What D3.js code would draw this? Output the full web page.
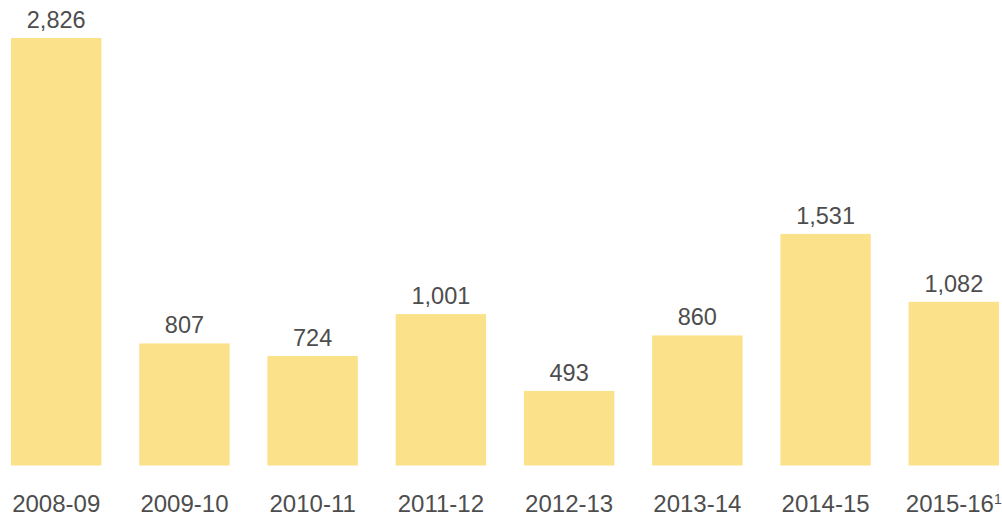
<!DOCTYPE html>
<html>
<head>
<meta charset="utf-8">
<script src="https://cdn.jsdelivr.net/npm/d3@7"></script>
<style>
    body { margin: 0; background: #fff; }
    text { font-family: 'Liberation Sans', Arial, sans-serif; fill: #4d4d4d; }
</style>
</head>
<body>
<div id="container"></div>
<script>
// Data
var years = ['2008-09', '2009-10', '2010-11', '2011-12', '2012-13', '2013-14', '2014-15', '2015-16'];
var values = [2826, 807, 724, 1001, 493, 860, 1531, 1082];
var footnotes = ['', '', '', '', '', '', '', '1'];

// Size variables
var width = 1002;
var height = 516;
var baseline = 465.5;

var svg = d3.select('#container')
    .append('svg')
    .attr('width', width)
    .attr('height', height);

// Scales
var xScale = d3.scaleBand()
    .domain(years)
    .range([11, 999])
    .paddingInner(0.295)
    .paddingOuter(0);

var yScale = d3.scaleLinear()
    .domain([0, 3000])
    .range([baseline, baseline - 3000 * 427.5 / 2826]);

// Bars
svg.selectAll('rect')
    .data(values)
    .enter()
    .append('rect')
    .attr('x', (d, i) => xScale(years[i]))
    .attr('y', (d) => yScale(d))
    .attr('width', xScale.bandwidth())
    .attr('height', (d) => baseline - yScale(d))
    .style('fill', '#fbe18a');

// Value labels
svg.selectAll('.value')
    .data(values)
    .enter()
    .append('text')
    .attr('class', 'value')
    .attr('x', (d, i) => xScale(years[i]) + xScale.bandwidth() / 2)
    .attr('y', (d) => yScale(d) - 10)
    .attr('text-anchor', 'middle')
    .style('font-size', '23.5px')
    .text((d) => d3.format(',')(d));

// Category axis (labels only)
var xAxis = d3.axisBottom(xScale).tickSize(0).tickPadding(0);

var axisG = svg.append('g')
    .call(xAxis);

axisG.select('.domain').remove();
axisG.selectAll('text').remove();

axisG.selectAll('.tick').each(function(d, i) {
    var t = d3.select(this).append('text')
        .attr('y', 512)
        .attr('text-anchor', 'middle')
        .style('font-size', '24px')
        .style('font-family', "'Liberation Sans', Arial, sans-serif")
        .attr('fill', '#4d4d4d');
    t.append('tspan').text(d);
    if (footnotes[i]) {
        t.append('tspan')
            .attr('dy', -8)
            .style('font-size', '14px')
            .text(footnotes[i]);
    }
});
</script>
</body>
</html>
